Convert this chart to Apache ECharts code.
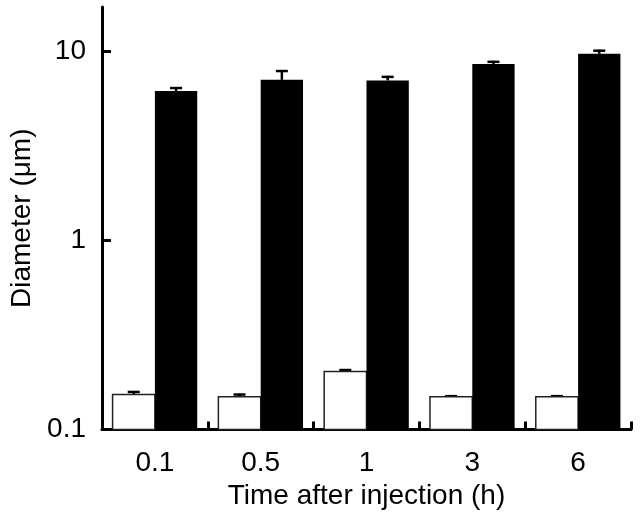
<!DOCTYPE html>
<html>
<head>
<meta charset="utf-8">
<script src="https://cdn.jsdelivr.net/npm/echarts@6/dist/echarts.min.js"></script>
<style>html,body{margin:0;padding:0;background:#fff;}#c{width:641px;height:518px;}</style>
</head>
<body>
<div id="c"></div>
<script>
var categories = ['0.1', '0.5', '1', '3', '6'];
var whiteValues = [0.153, 0.149, 0.203, 0.149, 0.149];
var whiteErrTop = [0.160, 0.155, 0.209, 0.152, 0.152];
var blackValues = [6.2, 7.1, 7.05, 8.6, 9.75];
var blackErrTop = [6.5, 8.0, 7.45, 8.95, 10.25];
var yTickValues = [0.1, 1, 10];
var yMin = 0.1;

var FONT = 'Liberation Sans';
var chart = echarts.init(document.getElementById('c'), null, {renderer: 'canvas'});

// bar + error bar drawn through the axes' own coordinate conversion
function barRender(offsetSign, vals, tops, fill, stroke, bw) {
  return function (params, api) {
    var i = api.value(0);
    var band = api.size([1, 0])[0];
    var w = band * 0.4;
    var c = api.coord([i, yMin]);
    var pv = api.coord([i, vals[i]]);
    var pe = api.coord([i, tops[i]]);
    var left = offsetSign < 0 ? c[0] - w : c[0];
    var xc = left + w / 2;
    var half = 6;
    return {
      type: 'group',
      children: [
        {type: 'line', shape: {x1: xc, y1: pv[1], x2: xc, y2: pe[1]}, style: {stroke: '#000', lineWidth: 2.5}},
        {type: 'line', shape: {x1: xc - half, y1: pe[1] + 1, x2: xc + half, y2: pe[1] + 1}, style: {stroke: '#000', lineWidth: 2.5}},
        {type: 'rect', shape: {x: left, y: pv[1], width: w, height: c[1] - pv[1]},
          style: {fill: fill, stroke: stroke, lineWidth: bw}}
      ]
    };
  };
}

var idx = categories.map(function (c, i) { return [i, whiteValues[i], blackValues[i]]; });

chart.setOption({
  animation: false,
  backgroundColor: '#fff',
  grid: {left: 99.5, right: 10, top: 7, bottom: 88.5, containLabel: false},
  xAxis: {
    type: 'category',
    data: categories,
    boundaryGap: true,
    axisLine: {show: true, lineStyle: {color: '#000', width: 3}},
    axisTick: {show: true, inside: true, length: 8, lineStyle: {color: '#000', width: 3}},
    axisLabel: {color: '#000', fontFamily: FONT, fontSize: 28, margin: 20},
    name: 'Time after injection (h)',
    nameLocation: 'middle',
    nameGap: 51,
    nameTextStyle: {color: '#000', fontFamily: FONT, fontSize: 28},
    splitLine: {show: false}
  },
  yAxis: {
    type: 'log',
    logBase: 10,
    min: yMin,
    max: 17.25,
    axisLine: {show: true, lineStyle: {color: '#000', width: 3}},
    axisTick: {show: true, inside: true, length: 9, lineStyle: {color: '#000', width: 3}, customValues: yTickValues},
    axisLabel: {color: '#000', fontFamily: FONT, fontSize: 28, margin: 16, customValues: yTickValues,
      formatter: function (v) { return String(v); }},
    minorTick: {show: false},
    splitLine: {show: false},
    name: 'Diameter (\u03bcm)',
    nameLocation: 'middle',
    nameGap: 66,
    nameTextStyle: {color: '#000', fontFamily: FONT, fontSize: 28}
  },
  series: [
    {
      type: 'custom',
      data: idx,
      encode: {x: 0, y: 1},
      renderItem: barRender(-1, whiteValues, whiteErrTop, '#fff', '#222', 1.5),
      z: 2
    },
    {
      type: 'custom',
      data: idx,
      encode: {x: 0, y: 2},
      renderItem: barRender(1, blackValues, blackErrTop, '#000', '#000', 0),
      z: 2
    }
  ]
});
</script>
</body>
</html>
